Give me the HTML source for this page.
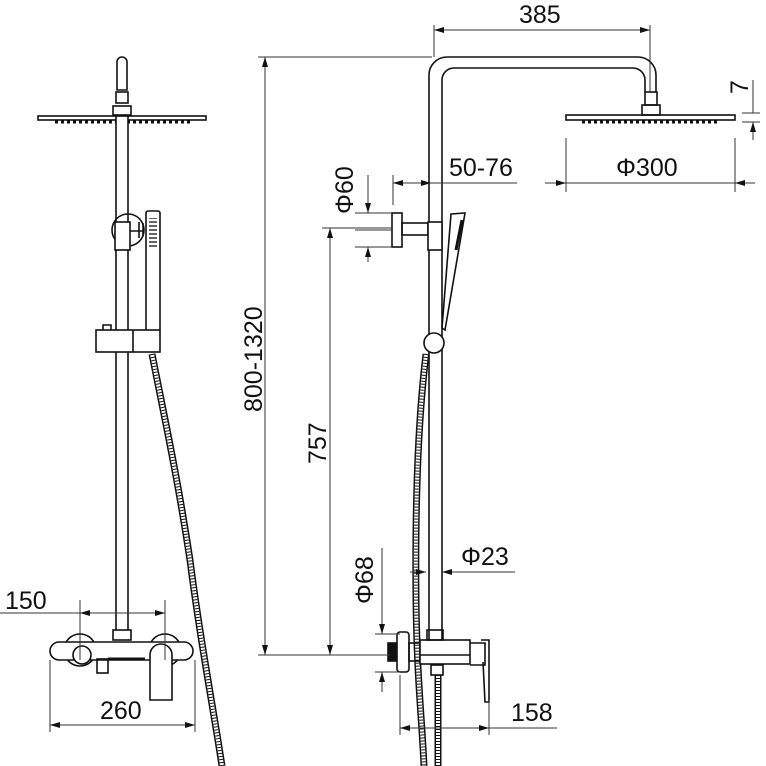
<!DOCTYPE html>
<html><head><style>html,body{margin:0;padding:0;background:#fff}svg{display:block}text{font-family:"Liberation Sans",sans-serif;fill:#111}</style></head><body>
<svg width="766" height="766" viewBox="0 0 766 766" xmlns="http://www.w3.org/2000/svg">
<defs>
<marker id="a" viewBox="0 0 10 6" refX="10" refY="3" markerWidth="10" markerHeight="6" orient="auto-start-reverse" markerUnits="userSpaceOnUse"><path d="M0,0L10,3L0,6z" fill="#111"/></marker>
<pattern id="hs" width="4" height="4" patternUnits="userSpaceOnUse"><path d="M0,2h4" stroke="#111" stroke-width="1.3"/></pattern>
</defs>
<g fill="none" stroke="#111" stroke-width="1.6">
<!-- LEFT VIEW -->
<path d="M117,90 V62 a5,5 0 0 1 10,0 V90 z"/>
<rect x="116" y="92" width="12" height="11"/>
<rect x="113" y="106" width="18" height="9"/>
<rect x="38" y="116" width="168" height="4"/>
<path d="M55,122 H190" stroke-width="3" stroke-dasharray="3,3"/>
<rect x="116" y="116" width="12" height="520" fill="#fff"/>
<circle cx="128" cy="230" r="16"/>
<rect x="115" y="222" width="15" height="28" fill="#fff"/>
<path d="M130,231 H143 M139,222 V238 M143,223 V236"/>
<rect x="146" y="211" width="14" height="120" rx="2"/>
<rect x="149" y="218" width="8" height="30" fill="url(#hs)" stroke="none"/>
<rect x="96" y="330" width="64" height="22" fill="#fff"/>
<path d="M103,330 v-5 h8 v5 M133,330 V352"/>
<g id="h1">
<path d="M152,354 C165,420 178,480 190,560 C200,640 212,700 222,766" stroke-width="7"/>
<path d="M152,354 C165,420 178,480 190,560 C200,640 212,700 222,766" stroke="#fff" stroke-width="4"/>
<path d="M152,354 C165,420 178,480 190,560 C200,640 212,700 222,766" stroke-width="4" stroke-dasharray="1,2"/>
</g>
<rect x="113" y="630" width="18" height="10" fill="#fff"/>
<circle cx="80" cy="650" r="16" fill="#fff"/>
<circle cx="165" cy="650" r="16" fill="#fff"/>
<rect x="50" y="642" width="143" height="18" rx="9" fill="#fff"/>
<circle cx="82" cy="655" r="9" fill="#fff"/>
<rect x="97" y="659" width="11" height="14"/>
<path d="M108,659 H145" stroke-width="3"/>
<path d="M150,700 V655 a11,11 0 0 1 22,0 V700 z" fill="#fff"/>
<!-- RIGHT VIEW -->
<path d="M429,640 V75 a18,18 0 0 1 18,-18 H638 a18,18 0 0 1 18,18 V92 M442,640 V80 a12,12 0 0 1 12,-12 H633 a12,12 0 0 1 12,12 V92"/>
<rect x="645" y="92" width="12" height="13"/>
<rect x="642" y="105" width="18" height="10"/>
<rect x="566" y="115" width="169" height="5"/>
<path d="M582,122 H718" stroke-width="3" stroke-dasharray="3,3"/>
<rect x="392" y="213" width="10" height="34"/>
<rect x="402" y="223" width="26" height="12"/>
<rect x="428" y="222" width="14" height="28" fill="#fff"/>
<path d="M451,214 L465,213 L445,330 L442,328 Z"/>
<path d="M462,220 L456,250" stroke-width="3"/>
<path d="M426,354 C418,420 415,500 416,600 C417,680 422,720 424,766" stroke-width="7"/>
<path d="M426,354 C418,420 415,500 416,600 C417,680 422,720 424,766" stroke="#fff" stroke-width="4"/>
<path d="M426,354 C418,420 415,500 416,600 C417,680 422,720 424,766" stroke-width="4" stroke-dasharray="1,2"/>
<circle cx="434" cy="343" r="10" fill="#fff"/>
<path d="M438,675 V766" stroke-width="7"/>
<path d="M438,675 V766" stroke="#fff" stroke-width="4"/>
<path d="M438,675 V766" stroke-width="4" stroke-dasharray="1,2"/>
<rect x="388" y="643" width="8" height="18" fill="#111"/>
<rect x="397" y="632" width="12" height="40" rx="3" fill="#fff"/>
<rect x="409" y="643" width="11" height="18"/>
<rect x="420" y="640" width="50" height="24" fill="#fff"/>
<rect x="427" y="630" width="16" height="10"/>
<path d="M420,655 H470 M470,643 h15 v22 h-15"/>
<path d="M481,640 h8 v62 h-4 l-2,-40"/>
<rect x="431" y="665" width="12" height="10"/>
</g>
<!-- DIMENSIONS -->
<g fill="none" stroke="#333" stroke-width="1">
<path d="M80,600 V660 M165,600 V660 M0,613 H80"/>
<path d="M80,613 H165" marker-start="url(#a)" marker-end="url(#a)"/>
<path d="M50,660 V732 M195,660 V732"/>
<path d="M50,725 H195" marker-start="url(#a)" marker-end="url(#a)"/>
<path d="M434,25 V57 M650,25 V92"/>
<path d="M434,30 H650" marker-start="url(#a)" marker-end="url(#a)"/>
<path d="M258,57 H432 M258,655 H390"/>
<path d="M265,57 V655" marker-start="url(#a)" marker-end="url(#a)"/>
<path d="M322,228 H392"/>
<path d="M330,228 V655" marker-start="url(#a)" marker-end="url(#a)"/>
<path d="M753,80 V113 M753,140 V122" marker-end="url(#a)"/>
<path d="M742,113 H760 M742,122 H760"/>
<path d="M566,138 V192 M735,138 V192"/>
<path d="M545,183 H566" marker-end="url(#a)"/><path d="M755,183 H735" marker-end="url(#a)"/><path d="M566,183 H735"/>
<path d="M393,175 V205"/>
<path d="M393,183 H431" marker-start="url(#a)" marker-end="url(#a)"/><path d="M431,183 H517"/>
<path d="M355,213 H392 M355,247 H392 M355,230 H392"/>
<path d="M368,175 V213" marker-end="url(#a)"/><path d="M368,262 V247" marker-end="url(#a)"/>
<path d="M410,572 H426" marker-end="url(#a)"/><path d="M515,572 H442" marker-end="url(#a)"/>
<path d="M375,634 H400 M375,672 H400"/>
<path d="M382,548 V634" marker-end="url(#a)"/><path d="M382,692 V672" marker-end="url(#a)"/>
<path d="M400,675 V735 M489,700 V735"/>
<path d="M400,728 H489" marker-start="url(#a)" marker-end="url(#a)"/><path d="M489,728 H557"/>
</g>
<g font-size="25">
<text x="5" y="609">150</text>
<text x="100" y="719">260</text>
<text x="519" y="23">385</text>
<text x="449" y="176">50-76</text>
<text x="616" y="176">Φ300</text>
<text x="461" y="565">Φ23</text>
<text x="511" y="721">158</text>
<text transform="translate(262,412) rotate(-90)">800-1320</text>
<text transform="translate(326,464) rotate(-90)">757</text>
<text transform="translate(353,214) rotate(-90)">Φ60</text>
<text transform="translate(373,604) rotate(-90)">Φ68</text>
<text transform="translate(748,94) rotate(-90)">7</text>
</g>
</svg>
</body></html>
